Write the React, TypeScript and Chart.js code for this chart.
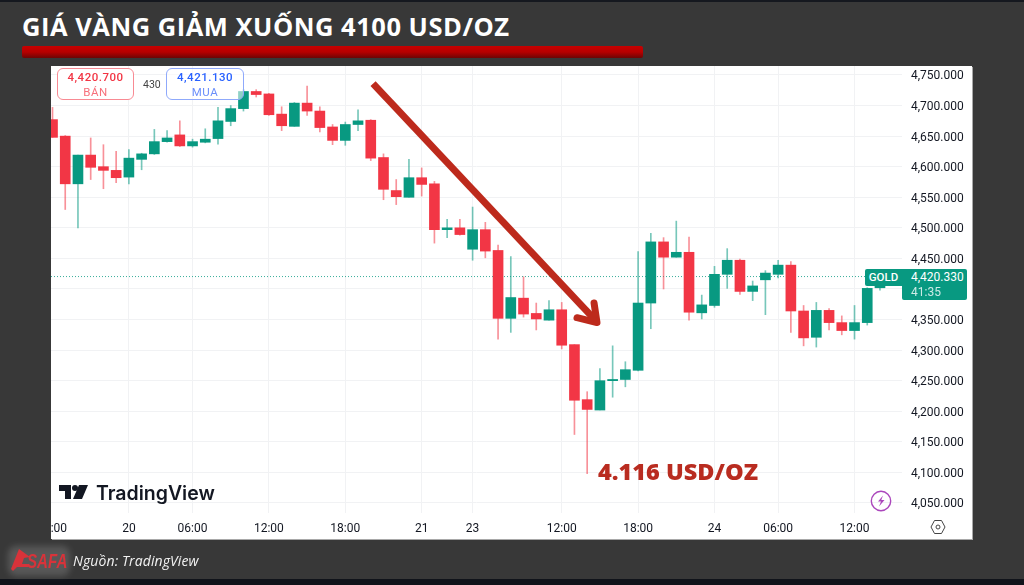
import React, { useEffect, useRef } from "react";
import { Chart, registerables } from "chart.js";

Chart.register(...registerables);

const opens = [4677,4650,4572,4619,4600,4594,4583,4612,4621,4641,4652,4634,4640,4646,4674,4695,4723,4719,4686,4666,4704,4691,4665,4643,4669,4676,4615,4561,4550,4582,4572,4497,4500,4465,4497,4463,4352,4385,4360,4349,4366,4309,4219,4202,4250,4252,4267,4377,4477,4452,4460,4361,4373,4424,4447,4396,4415,4424,4439,4364,4321,4365,4345,4332,4345,4402];
const highs = [4697,4651,4619,4647,4636,4625,4628,4622,4661,4659,4675,4645,4662,4697,4700,4726,4726,4720,4698,4705,4732,4698,4669,4673,4693,4677,4621,4579,4612,4598,4576,4514,4514,4534,4509,4472,4453,4420,4377,4381,4378,4309,4232,4270,4307,4281,4461,4491,4484,4511,4485,4390,4437,4466,4449,4413,4430,4447,4445,4373,4378,4368,4356,4373,4402,4425];
const lows = [4648,4530,4500,4579,4564,4574,4572,4595,4620,4640,4633,4632,4639,4637,4667,4691,4714,4684,4659,4666,4684,4657,4636,4635,4659,4610,4546,4538,4550,4552,4475,4484,4488,4447,4451,4318,4329,4354,4333,4349,4302,4162,4098,4202,4223,4240,4266,4335,4400,4452,4349,4351,4370,4401,4391,4381,4358,4418,4329,4307,4305,4333,4325,4318,4341,4398];
const closes = [4648,4572,4619,4599,4594,4582,4614,4621,4641,4647,4634,4641,4645,4675,4695,4723,4718,4685,4667,4704,4691,4664,4643,4669,4675,4614,4563,4551,4582,4571,4497,4500,4489,4497,4462,4352,4386,4359,4351,4366,4308,4218,4203,4250,4252,4268,4377,4477,4452,4460,4362,4374,4424,4447,4396,4405,4426,4439,4364,4320,4365,4345,4332,4345,4401,4420.33];

const priceTicks = [4050,4100,4150,4200,4250,4300,4350,4400,4450,4500,4550,4600,4650,4700,4750];
const timeTickPositions = [0.5,6,11,17,23,29,33,40,46,52,57,63];
const timeTickLabels = [":00","20","06:00","12:00","18:00","21","23","12:00","18:00","24","06:00","12:00"];
const lastPrice = 4420.33;
const xRange = [-0.118, 66.73];
const priceRange = [4033.6, 4764.7];

const arrowShaftX = [25.18, 42.6];
const arrowShaftY = [4736, 4350];
const arrowHeadX = [42.54, 42.77, 41.2];
const arrowHeadY = [4377, 4345, 4353];

const UP = "#089981";
const DOWN = "#f23645";
const UP_WICK = "rgba(8,153,129,0.55)";
const DOWN_WICK = "rgba(242,54,69,0.55)";
const ARROW = "#bd2a1c";
const UI_FONT = "Roboto, sans-serif";
const HEAD_FONT = "'Open Sans', 'Noto Sans', sans-serif";

const abs = (left: number, top: number, extra: React.CSSProperties = {}): React.CSSProperties => ({
  position: "absolute", left, top, whiteSpace: "nowrap", ...extra,
});

export default function App() {
  const ref = useRef<HTMLCanvasElement>(null);
  useEffect(() => {
    const isUp = closes.map((c, i) => c >= opens[i]);
    const chart = new Chart(ref.current!, {
      data: {
        datasets: [
          {
            type: "line", label: "arrow", order: 0,
            data: arrowShaftX.map((x, i) => ({ x, y: arrowShaftY[i] })),
            borderColor: ARROW, borderWidth: 7, pointRadius: 0, tension: 0,
          },
          {
            type: "line", label: "arrowhead", order: 0,
            data: arrowHeadX.map((x, i) => ({ x, y: arrowHeadY[i] })),
            borderColor: ARROW, borderWidth: 7, pointRadius: 0, tension: 0,
            borderCapStyle: "round", borderJoinStyle: "round",
          },
          {
            type: "bar", label: "body", order: 1, grouped: false, barThickness: 10,
            data: opens.map((o, i) => ({ x: i, y: [o, closes[i]] })),
            backgroundColor: isUp.map((u) => (u ? UP : DOWN)),
          },
          {
            type: "bar", label: "wick", order: 2, grouped: false, barThickness: 1,
            data: highs.map((h, i) => ({ x: i, y: [lows[i], h] })),
            backgroundColor: isUp.map((u) => (u ? UP_WICK : DOWN_WICK)),
          },
          {
            type: "line", label: "last", order: 3,
            data: xRange.map((x) => ({ x, y: lastPrice })),
            borderColor: "rgba(8,153,129,0.8)", borderWidth: 1, borderDash: [1, 2], pointRadius: 0,
          },
        ],
      } as any,
      options: {
        animation: false,
        responsive: false,
        layout: { padding: { left: 51, top: 66, right: 52, bottom: 46 } },
        plugins: { legend: { display: false }, tooltip: { enabled: false }, title: { display: false } },
        scales: {
          x: {
            type: "linear", min: xRange[0], max: xRange[1], offset: false,
            afterBuildTicks: (s: any) => { s.ticks = timeTickPositions.map((value) => ({ value })); },
            afterFit: (s: any) => { s.height = 26; },
            grid: {
              offset: false,
              color: (c: any) => (c.tick && c.tick.value === timeTickPositions[0] ? "rgba(0,0,0,0)" : "#f1f2f4"),
              drawTicks: false,
            },
            border: { display: false },
            ticks: {
              autoSkip: false, maxRotation: 0, padding: 9, color: "#131722",
              font: { family: UI_FONT, size: 12 },
              callback: (v: any) => timeTickLabels[timeTickPositions.indexOf(Number(v))] ?? "",
            },
          },
          y: {
            type: "linear", position: "right", min: priceRange[0], max: priceRange[1],
            afterBuildTicks: (s: any) => { s.ticks = priceTicks.map((value) => ({ value })); },
            afterFit: (s: any) => { s.width = 70; },
            grid: { color: "#f1f2f4", drawTicks: false },
            border: { display: false },
            ticks: {
              autoSkip: false, padding: 9, color: "#131722", labelOffset: 1.5,
              font: { family: UI_FONT, size: 12 },
              callback: (v: any) => Number(v).toLocaleString("en-US", { minimumFractionDigits: 3 }),
            },
          },
        },
      },
    } as any);
    return () => chart.destroy();
  }, []);

  return (
    <div style={{ position: "fixed", left: 0, top: 0, width: 1024, height: 585, overflow: "hidden", background: "#383838" }}>
      <div style={abs(0, 0, { width: 1024, height: 2, background: "#15181f" })} />
      <div style={abs(0, 579, { width: 1024, height: 6, background: "#10131a" })} />
      <div style={abs(22, 11, { font: `700 25.5px ${HEAD_FONT}`, color: "#fff", lineHeight: "30px", letterSpacing: 0.52 })}>GIÁ VÀNG GIẢM XUỐNG 4100 USD/OZ</div>
      <div style={abs(22, 46, { width: 621, height: 12, borderRadius: 2, background: "linear-gradient(#c80000 0%, #b80000 50%, #6e0505 100%)" })} />

      <div style={abs(51, 66, { width: 921, height: 473, background: "#fff", boxShadow: "1px 1px 0 #a8a8a8" })} />
      <canvas ref={ref} width={1024} height={585} style={abs(0, 0, { display: "block" })} />

      <div style={abs(57, 68, { width: 77, height: 32, boxSizing: "border-box", border: "1px solid #f88a93", borderRadius: 6, background: "#fff", textAlign: "center", color: "#f23645", font: `500 11.5px/15px ${UI_FONT}`, paddingTop: 1, letterSpacing: 0.5 })}>
        <div>4,420.700</div>
        <div style={{ color: "#f7707b", fontWeight: 400 }}>BÁN</div>
      </div>
      <div style={abs(143, 78, { font: `400 10.5px/14px ${UI_FONT}`, color: "#444" })}>430</div>
      <div style={abs(166, 68, { width: 78, height: 32, boxSizing: "border-box", border: "1px solid #8fa9fb", borderRadius: 6, background: "rgba(255,255,255,0.55)", textAlign: "center", color: "#2962ff", font: `500 11.5px/15px ${UI_FONT}`, paddingTop: 1, letterSpacing: 0.5 })}>
        <div>4,421.130</div>
        <div style={{ color: "#6b8ffb", fontWeight: 400 }}>MUA</div>
      </div>

      <div style={abs(598, 456, { font: `800 23.5px/30px ${HEAD_FONT}`, color: "#b92c20" })}>4.116 USD/OZ</div>

      <div style={abs(865, 269, { width: 37, height: 17, background: UP, borderRadius: "2px 0 0 2px", color: "#fff", font: `500 11.5px/17px ${UI_FONT}`, textAlign: "center" })}>GOLD</div>
      <div style={abs(902, 269, { width: 65, height: 31, background: UP, borderRadius: "0 2px 2px 2px", color: "#fff", font: `400 12px/15px ${UI_FONT}`, paddingLeft: 9, boxSizing: "border-box", paddingTop: 1 })}>
        <div>4,420.330</div>
        <div style={{ opacity: 0.8 }}>41:35</div>
      </div>

      <svg style={abs(59, 485)} width="30" height="14" viewBox="0 0 30 14">
        <path d="M0 0h12v14H6V6H0z M20 0h9l-6 14h-9z" fill="#131722" />
        <circle cx="16" cy="3" r="3" fill="#131722" />
      </svg>
      <div style={abs(96, 481, { font: `600 19.5px/24px Inter, ${UI_FONT}`, color: "#131722" })}>TradingView</div>

      <svg style={abs(870, 490)} width="22" height="22" viewBox="0 0 22 22">
        <circle cx="11" cy="11" r="9.7" fill="none" stroke="#ab47bc" strokeWidth="1.4" />
        <path d="M13 5.5 L8 11.5 H11 L9 16.5 L14.5 10 H11.3 Z" fill="#ab47bc" />
      </svg>
      <svg style={abs(930, 519)} width="16" height="16" viewBox="0 0 16 16">
        <path d="M4.5 1.5h7L15 8l-3.5 6.5h-7L1 8z" fill="none" stroke="#444" strokeWidth="1" />
        <circle cx="8" cy="8" r="2" fill="none" stroke="#444" strokeWidth="1" />
      </svg>

      <div style={abs(8, 546, { width: 62, height: 30, borderRadius: 8, background: "rgba(255,255,255,0.16)", filter: "blur(3px)" })} />
      <svg style={abs(11, 549)} width="20" height="22" viewBox="0 0 20 22">
        <path d="M8 0 L19 8 L13 9 L11 15 L17 15 L17 18 L6 18 L2 22 L0 20 Z" fill="#d8333a" />
      </svg>
      <div style={abs(27, 550, { font: `italic 700 21px/22px 'Liberation Sans', sans-serif`, color: "#d8333a", transform: "scaleX(0.72)", transformOrigin: "left top" })}>SAFA</div>
      <div style={abs(73, 553, { font: `italic 500 14px/16px ${HEAD_FONT}`, color: "#f2f2f2", letterSpacing: 0.1 })}>Nguồn: TradingView</div>
    </div>
  );
}
